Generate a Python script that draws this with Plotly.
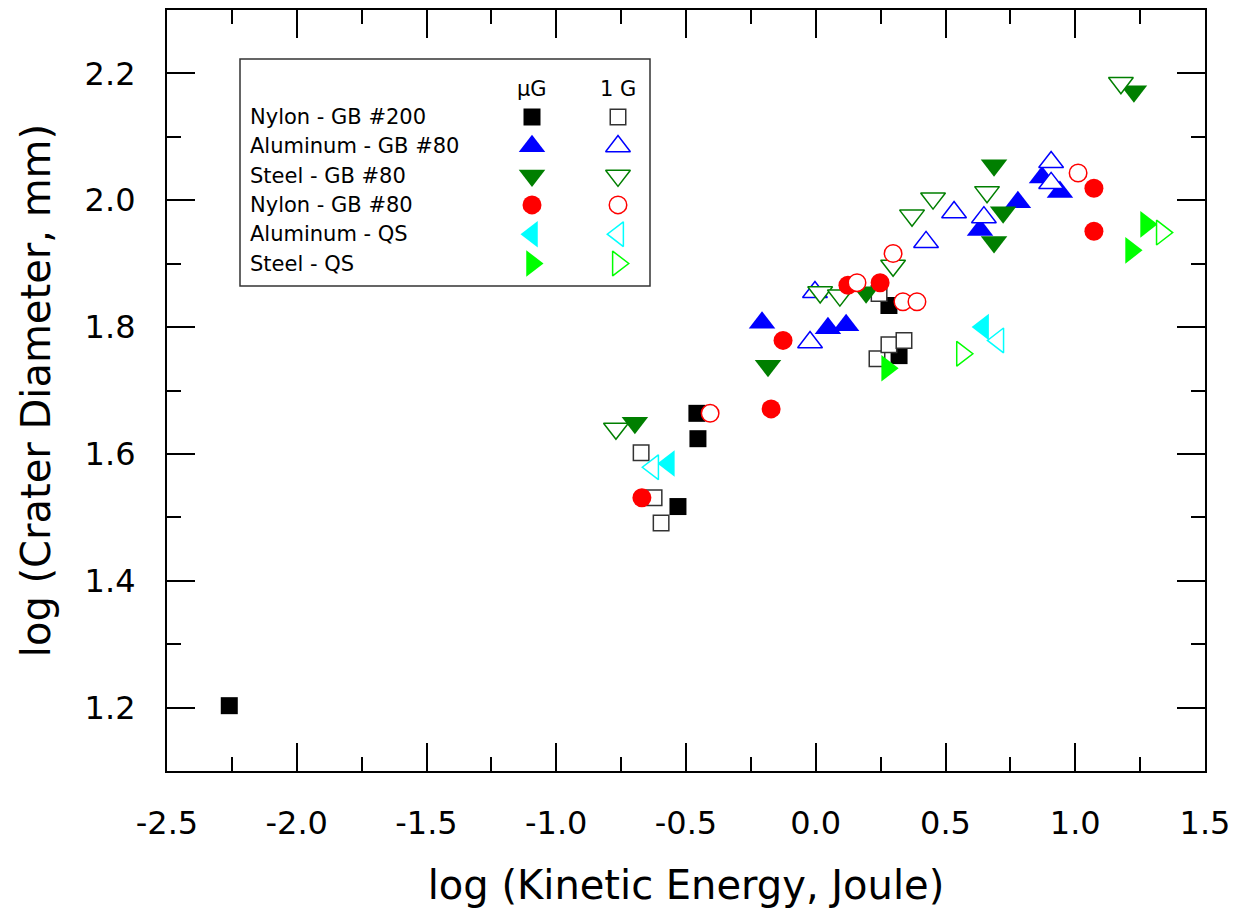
import plotly.graph_objects as go

# ---------------- data (log KE [J], log crater diameter [mm]) ----------------
nylon200_ug_x = [-2.26, -0.458, -0.454, -0.531, 0.282, 0.321]
nylon200_ug_y = [1.203, 1.664, 1.624, 1.517, 1.834, 1.755]
nylon200_1g_x = [-0.673, -0.623, -0.596, 0.244, 0.236, 0.282, 0.340]
nylon200_1g_y = [1.602, 1.531, 1.491, 1.853, 1.750, 1.772, 1.779]

al80_ug_x = [-0.207, 0.047, 0.117, 0.779, 0.633, 0.872, 0.941]
al80_ug_y = [1.807, 1.798, 1.803, 1.997, 1.953, 2.036, 2.013]
al80_1g_x = [-0.003, -0.022, 0.425, 0.533, 0.648, 0.907, 0.907]
al80_1g_y = [1.855, 1.776, 1.934, 1.981, 1.973, 2.060, 2.027]

steel80_ug_x = [-0.697, -0.184, 0.194, 0.687, 0.722, 0.687, 1.226]
steel80_ug_y = [1.649, 1.739, 1.855, 2.055, 1.981, 1.934, 2.172]
steel80_1g_x = [-0.770, 0.017, 0.093, 0.298, 0.371, 0.452, 0.660, 1.176]
steel80_1g_y = [1.640, 1.855, 1.850, 1.897, 1.976, 2.003, 2.013, 2.185]

nylon80_ug_x = [-0.670, -0.172, -0.126, 0.124, 0.248, 1.072, 1.072]
nylon80_ug_y = [1.531, 1.671, 1.779, 1.866, 1.870, 2.019, 1.951]
nylon80_1g_x = [-0.407, 0.159, 0.298, 0.336, 0.390, 1.011]
nylon80_1g_y = [1.664, 1.870, 1.916, 1.840, 1.840, 2.043]

alqs_ug_x = [-0.566, 0.645]
alqs_ug_y = [1.585, 1.800]
alqs_1g_x = [-0.627, 0.703]
alqs_1g_y = [1.579, 1.779]

steelqs_ug_x = [0.275, 1.273, 1.215]
steelqs_ug_y = [1.735, 1.962, 1.921]
steelqs_1g_x = [0.564, 1.334]
steelqs_1g_y = [1.758, 1.949]

series_names = ["Nylon - GB #200", "Aluminum - GB #80", "Steel - GB #80",
                "Nylon - GB #80", "Aluminum - QS", "Steel - QS"]
column_labels = ["\u03bcG", "1 G"]

x_tick_vals = [-2.5, -2.0, -1.5, -1.0, -0.5, 0.0, 0.5, 1.0, 1.5]
x_tick_labels = ["-2.5", "-2.0", "-1.5", "-1.0", "-0.5", "0.0", "0.5", "1.0", "1.5"]
y_tick_vals = [1.2, 1.4, 1.6, 1.8, 2.0, 2.2]
y_tick_labels = ["1.2", "1.4", "1.6", "1.8", "2.0", "2.2"]

x_title = "log (Kinetic Energy, Joule)"
y_title = "log (Crater Diameter, mm)"

# ---------------- styles ----------------
styles = [
    ("square", "#000000", 17),
    ("triangle-up", "#0000FF", 23),
    ("triangle-down", "#007F00", 23),
    ("circle", "#FF0000", 19),
    ("triangle-left", "#00FFFF", 23),
    ("triangle-right", "#00FF00", 23),
]
data_sets = [
    (nylon200_ug_x, nylon200_ug_y, nylon200_1g_x, nylon200_1g_y),
    (al80_ug_x, al80_ug_y, al80_1g_x, al80_1g_y),
    (steel80_ug_x, steel80_ug_y, steel80_1g_x, steel80_1g_y),
    (nylon80_ug_x, nylon80_ug_y, nylon80_1g_x, nylon80_1g_y),
    (alqs_ug_x, alqs_ug_y, alqs_1g_x, alqs_1g_y),
    (steelqs_ug_x, steelqs_ug_y, steelqs_1g_x, steelqs_1g_y),
]

FONT = "DejaVu Sans"


def filled(sym, col, size):
    return dict(symbol=sym, color=col, size=size, line=dict(width=0))


def hollow(sym, col, size):
    edge = "#333333" if col == "#000000" else col
    return dict(symbol=sym, color="white", size=size - 1.5, line=dict(width=1.5, color=edge))


fig = go.Figure()
for name, (sym, col, size), (xu, yu, x1, y1) in zip(series_names, styles, data_sets):
    fig.add_trace(go.Scatter(x=xu, y=yu, mode="markers", name=name + " \u03bcG",
                             marker=filled(sym, col, size), showlegend=False))
    fig.add_trace(go.Scatter(x=x1, y=y1, mode="markers", name=name + " 1 G",
                             marker=hollow(sym, col, size), showlegend=False))

# ---------------- layout geometry (page has an 8px body margin) ----------------
PAGE_OFF = 8
W, H = 1234, 912
ML, MR, MT, MB = 159, 37, 2, 149
PW, PH = W - ML - MR, H - MT - MB


def px(xs):  # screen x -> paper x
    return (xs - PAGE_OFF - ML) / PW


def py(ys):  # screen y -> paper y
    return 1 - (ys - PAGE_OFF - MT) / PH


# ---------------- custom two-column legend ----------------
leg_box = (240, 59, 650, 286)
col_x = [532, 618]
header_y = 89
row_y0, row_dy = 117, 29.3
text_x = 248

fig.add_shape(type="rect", xref="paper", yref="paper",
              x0=px(leg_box[0]), x1=px(leg_box[2]), y0=py(leg_box[3]), y1=py(leg_box[1]),
              line=dict(color="#333333", width=1.5), fillcolor="rgba(0,0,0,0)", layer="below")

for i, lab in enumerate(column_labels):
    fig.add_annotation(x=px(col_x[i]), y=py(header_y), xref="paper", yref="paper",
                       text=lab, showarrow=False, xanchor="center", yanchor="middle",
                       font=dict(family=FONT, size=21, color="black"))

for r, (name, (sym, col, size)) in enumerate(zip(series_names, styles)):
    yy = py(row_y0 + r * row_dy)
    fig.add_annotation(x=px(text_x), y=yy, xref="paper", yref="paper", text=name,
                       showarrow=False, xanchor="left", yanchor="middle",
                       font=dict(family=FONT, size=21, color="black"))
    fig.add_trace(go.Scatter(x=[px(col_x[0])], y=[yy], xaxis="x2", yaxis="y2",
                             mode="markers", marker=filled(sym, col, size),
                             showlegend=False, hoverinfo="skip"))
    fig.add_trace(go.Scatter(x=[px(col_x[1])], y=[yy], xaxis="x2", yaxis="y2",
                             mode="markers", marker=hollow(sym, col, size),
                             showlegend=False, hoverinfo="skip"))

axis_common = dict(showline=True, linecolor="black", linewidth=2.2, mirror="ticks",
                   ticks="inside", ticklen=28, tickwidth=2.2, tickcolor="black",
                   showgrid=False, zeroline=False,
                   tickfont=dict(family=FONT, size=32, color="black"))

fig.update_layout(
    width=W, height=H,
    margin=dict(l=ML, r=MR, t=MT, b=MB, autoexpand=False),
    paper_bgcolor="white", plot_bgcolor="white",
    showlegend=False,
    xaxis=dict(range=[-2.5, 1.5], tickvals=x_tick_vals, ticktext=x_tick_labels,
               minor=dict(dtick=0.25, tick0=0, ticks="inside", ticklen=14,
                          tickwidth=2.2, tickcolor="black", showgrid=False),
               ticklabelstandoff=22,
               title=dict(text=x_title, font=dict(family=FONT, size=40, color="black"),
                          standoff=30),
               **axis_common),
    yaxis=dict(range=[1.1, 2.3], tickvals=y_tick_vals, ticktext=y_tick_labels,
               minor=dict(dtick=0.1, tick0=0, ticks="inside", ticklen=14,
                          tickwidth=2.2, tickcolor="black", showgrid=False),
               ticklabelstandoff=23,
               title=dict(text=y_title, font=dict(family=FONT, size=40, color="black"),
                          standoff=22),
               **axis_common),
    xaxis2=dict(overlaying="x", anchor="y2", range=[0, 1], visible=False),
    yaxis2=dict(overlaying="y", anchor="x2", range=[0, 1], visible=False),
)

fig.write_html("out.html")
